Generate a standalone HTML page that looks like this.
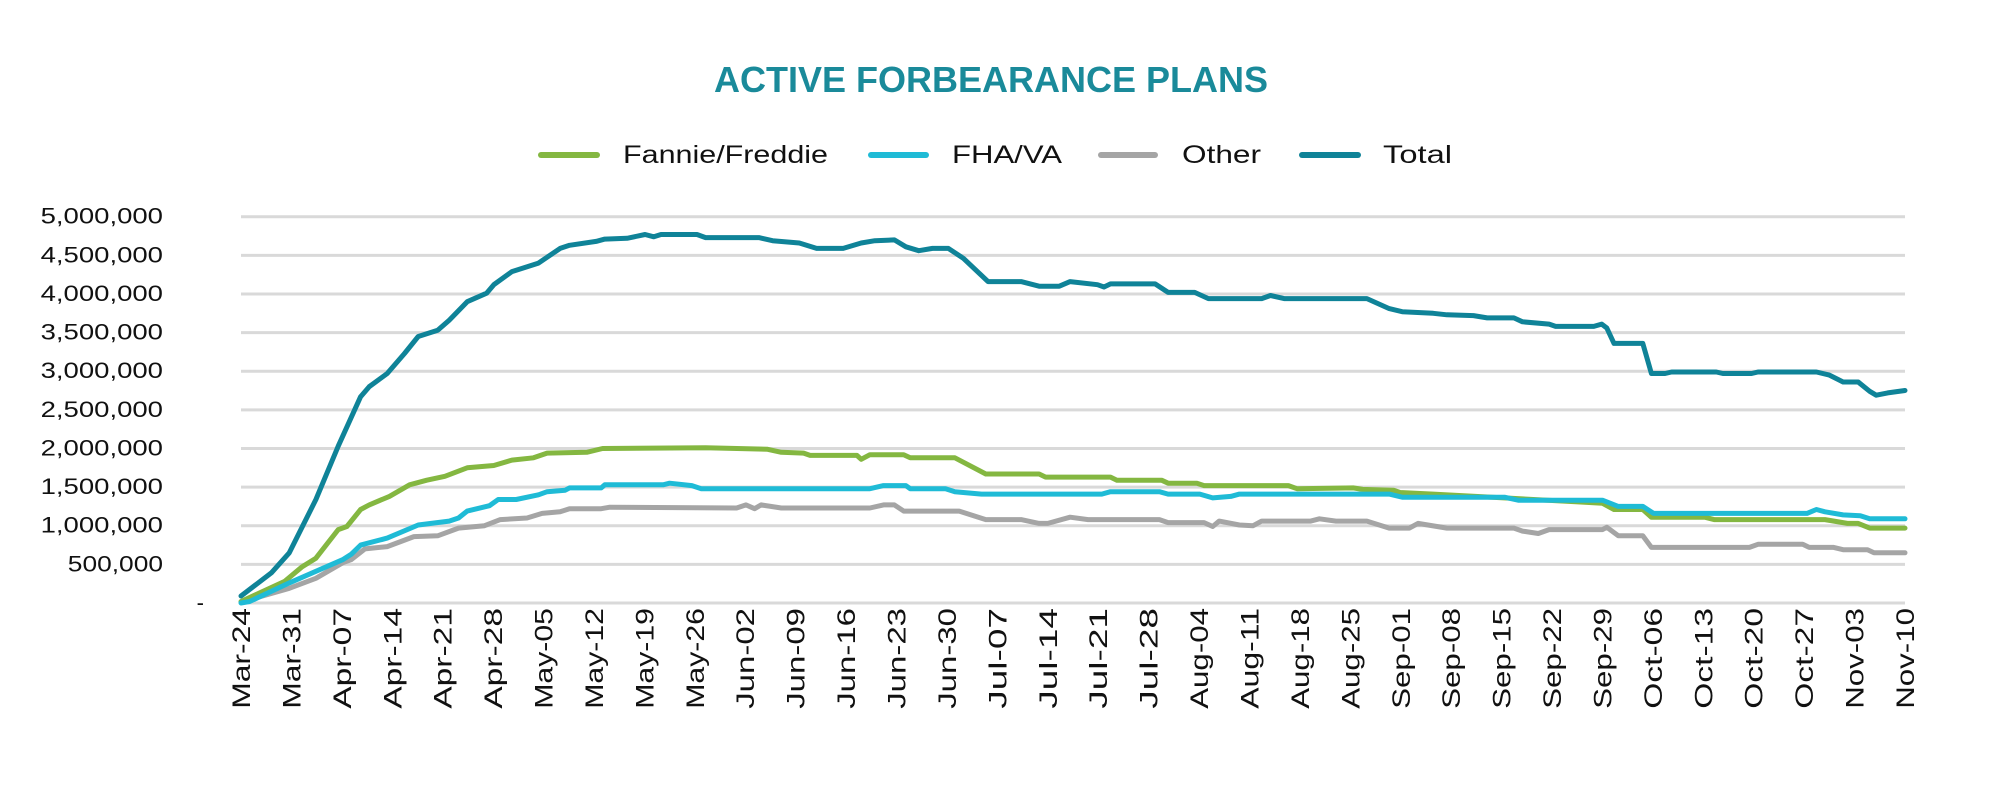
<!DOCTYPE html>
<html><head><meta charset="utf-8"><style>
html,body{margin:0;padding:0;background:#fff;}
svg{display:block;font-family:"Liberation Sans",sans-serif;}
</style></head><body>
<svg id="chart" width="1994" height="802" viewBox="0 0 1994 802" xmlns="http://www.w3.org/2000/svg">
<text x="991" y="92" text-anchor="middle" font-size="36" font-weight="bold" fill="#1a8a9a" textLength="554" lengthAdjust="spacingAndGlyphs">ACTIVE FORBEARANCE PLANS</text>
<g>
<g><line x1="541" y1="155" x2="597" y2="155" stroke="#84b741" stroke-width="6" stroke-linecap="round"/><text x="623" y="163" font-size="25" fill="#111" textLength="205" lengthAdjust="spacingAndGlyphs">Fannie/Freddie</text></g>
<g><line x1="871" y1="155" x2="926" y2="155" stroke="#1fbbd6" stroke-width="6" stroke-linecap="round"/><text x="952" y="163" font-size="25" fill="#111" textLength="110" lengthAdjust="spacingAndGlyphs">FHA/VA</text></g>
<g><line x1="1101" y1="155" x2="1155" y2="155" stroke="#a5a5a5" stroke-width="6" stroke-linecap="round"/><text x="1182" y="163" font-size="25" fill="#111" textLength="79" lengthAdjust="spacingAndGlyphs">Other</text></g>
<g><line x1="1302" y1="155" x2="1358" y2="155" stroke="#0f8398" stroke-width="6" stroke-linecap="round"/><text x="1383" y="163" font-size="25" fill="#111" textLength="69" lengthAdjust="spacingAndGlyphs">Total</text></g>
</g>
<g id="grid"></g><g id="yax"></g><g id="xax"></g><g id="series"></g>
</svg>
<script>
const yTicks=[0,500000,1000000,1500000,2000000,2500000,3000000,3500000,4000000,4500000,5000000];
const yTickLabels=["-","500,000","1,000,000","1,500,000","2,000,000","2,500,000","3,000,000","3,500,000","4,000,000","4,500,000","5,000,000"];
const xTickLabels=["Mar-24","Mar-31","Apr-07","Apr-14","Apr-21","Apr-28","May-05","May-12","May-19","May-26","Jun-02","Jun-09","Jun-16","Jun-23","Jun-30","Jul-07","Jul-14","Jul-21","Jul-28","Aug-04","Aug-11","Aug-18","Aug-25","Sep-01","Sep-08","Sep-15","Sep-22","Sep-29","Oct-06","Oct-13","Oct-20","Oct-27","Nov-03","Nov-10"];
const totalDays=[0,4.2,6.7,10.4,13.5,16.6,17.8,20.3,22.7,24.6,27.3,28.9,31.4,34.1,35.1,37.6,41.3,44.3,45.6,49.3,50.5,53.6,56.1,57.3,58.3,63.3,64.5,71.9,73.8,77.5,79.9,83.6,86.1,88,90.7,92.3,94.1,96,98.2,100.3,103.7,108.3,110.8,113.6,115.1,118.9,119.8,120.7,126.9,128.7,132.4,134.3,141.7,142.9,144.8,156.3,159.4,161.2,165.5,167.4,171.1,173,176.7,177.9,181.6,182.5,187.8,188.9,189.6,190.6,194.6,195.8,197.7,198.6,204.8,205.7,209.7,210.6,218.7,220.5,222.4,224.5,226.1,227,228.6,231];
const totalVals=[0.09,0.39,0.65,1.34,2.03,2.67,2.8,2.97,3.23,3.45,3.53,3.66,3.9,4.01,4.12,4.29,4.4,4.59,4.63,4.68,4.71,4.72,4.77,4.74,4.77,4.77,4.73,4.73,4.69,4.66,4.59,4.59,4.66,4.69,4.7,4.61,4.56,4.59,4.59,4.46,4.16,4.16,4.1,4.1,4.16,4.12,4.09,4.13,4.13,4.02,4.02,3.94,3.94,3.98,3.94,3.94,3.81,3.77,3.75,3.73,3.72,3.69,3.69,3.64,3.61,3.58,3.58,3.61,3.56,3.36,3.36,2.97,2.97,2.99,2.99,2.97,2.97,2.99,2.99,2.95,2.86,2.86,2.74,2.69,2.72,2.75];
const fannieDays=[0,6.05,8.5,10.4,13.5,14.7,16.6,17.8,20.6,23.4,25.8,28.3,31.4,35.1,37.6,40.6,42.5,48,50.2,64.5,73.1,75,78.1,79,85.5,86.1,87.3,92,92.9,99.1,103.4,110.8,111.7,120.7,121.6,127.8,128.7,132.7,133.7,145.4,146.6,154.4,155.7,160,160.9,165.5,185.3,189,190.6,194.6,195.8,203.2,204.5,219.9,223,224.5,226.1,231];
const fannieVals=[0.02,0.28,0.47,0.58,0.95,0.99,1.21,1.27,1.38,1.53,1.59,1.64,1.75,1.78,1.85,1.88,1.94,1.95,2.0,2.01,1.99,1.95,1.94,1.91,1.91,1.86,1.92,1.92,1.88,1.88,1.67,1.67,1.63,1.63,1.59,1.59,1.55,1.55,1.52,1.52,1.48,1.49,1.47,1.46,1.43,1.41,1.31,1.29,1.21,1.21,1.11,1.11,1.08,1.08,1.03,1.03,0.97,0.97];
const fhaDays=[0,1.2,6.7,10.4,14.1,15.3,16.6,20.3,24.6,28.9,30.2,31.4,34.5,35.7,38.2,41.3,42.5,45,45.6,50,50.5,58.6,59.5,62.6,63.9,87.3,89.2,92.3,92.9,97.8,99.1,102.8,119.5,120.7,127.5,128.7,133.1,134.9,137.4,138.6,159.4,161.2,175.4,177.3,189,191.2,194.6,196.1,217.4,218.7,219.9,222.4,224.8,226.1,231];
const fhaVals=[0,0.02,0.26,0.41,0.56,0.63,0.75,0.84,1.01,1.06,1.1,1.19,1.26,1.34,1.34,1.4,1.44,1.46,1.49,1.49,1.53,1.53,1.55,1.52,1.48,1.48,1.52,1.52,1.48,1.48,1.44,1.41,1.41,1.44,1.44,1.41,1.41,1.36,1.38,1.41,1.41,1.37,1.37,1.33,1.33,1.25,1.25,1.16,1.16,1.21,1.18,1.14,1.13,1.09,1.09];
const otherDays=[0,6.7,10.4,14.1,15.3,17.2,20.3,24,27.3,30.2,33.8,36,39.7,41.8,44.3,45.6,50,51.2,68.8,70.1,71.3,72.2,75,87.3,89.2,90.7,92,99.7,103.4,108.3,110.8,112,115.1,117.6,127.5,128.7,133.7,134.9,135.8,138.6,140.5,141.7,148.5,149.7,152,156.3,159.4,162.2,163.4,167.4,176.7,177.9,180.1,181.6,189,189.6,191.2,194.6,195.8,209.4,210.6,216.8,217.7,221.1,222.4,225.8,226.7,231];
const otherVals=[0.01,0.19,0.32,0.52,0.56,0.7,0.73,0.86,0.87,0.97,1.0,1.08,1.1,1.16,1.18,1.22,1.22,1.24,1.23,1.27,1.22,1.27,1.23,1.23,1.27,1.27,1.19,1.19,1.08,1.08,1.03,1.03,1.11,1.08,1.08,1.04,1.04,0.99,1.06,1.01,1.0,1.06,1.06,1.09,1.06,1.06,0.97,0.97,1.03,0.97,0.97,0.93,0.9,0.95,0.95,0.98,0.87,0.87,0.72,0.72,0.76,0.76,0.72,0.72,0.69,0.69,0.65,0.65];

const NS="http://www.w3.org/2000/svg";
const X0=241,X1=1905,Y0=603,Y1=216.7,DAYS=231,YMAX=5000000;
function xs(d){return X0+d/DAYS*(X1-X0);}
function ys(v){return Y0-v/YMAX*(Y0-Y1);}
function mk(tag,attrs,parent){const e=document.createElementNS(NS,tag);for(const k in attrs)e.setAttribute(k,attrs[k]);parent.appendChild(e);return e;}
const grid=document.getElementById('grid'),yax=document.getElementById('yax'),xax=document.getElementById('xax'),ser=document.getElementById('series');
yTicks.forEach((t,i)=>{
  const l=mk('line',{x1:X0,x2:X1,y1:ys(t),y2:ys(t),stroke:'#d9d9d9','stroke-width':3},grid);
  
  
  const tx=mk('text',{x:i>0?163:204,y:ys(t)+7,'text-anchor':'end','font-size':22,fill:'#111'},yax);
  if(i>0){tx.setAttribute('textLength',String(yTickLabels[i].length*13.6));tx.setAttribute('lengthAdjust','spacingAndGlyphs');}
  tx.textContent=yTickLabels[i];
  
  
});
xTickLabels.forEach((lab,i)=>{
  const x=xs(i*7);
  const tx=mk('text',{x:0,y:0,'text-anchor':'end','font-size':25,fill:'#111',textLength:String(lab.length*16.8),lengthAdjust:'spacingAndGlyphs',transform:`translate(${x+9},608) rotate(-90)`},xax);
  tx.textContent=lab;
  
  
});
function drawSeries(days,vals,color,name){
  const pts=days.map((d,i)=>xs(d).toFixed(1)+','+ys(vals[i]*1e6).toFixed(1)).join(' ');
  const p=mk('polyline',{points:pts,fill:'none',stroke:color,'stroke-width':5,'stroke-linejoin':'round','stroke-linecap':'round'},ser);
  
  
}
drawSeries(otherDays,otherVals,'#a5a5a5','other-line');
drawSeries(fannieDays,fannieVals,'#84b741','fannie-freddie-line');
drawSeries(fhaDays,fhaVals,'#1fbbd6','fha-va-line');
drawSeries(totalDays,totalVals,'#0f8398','total-line');
</script>
</body></html>
